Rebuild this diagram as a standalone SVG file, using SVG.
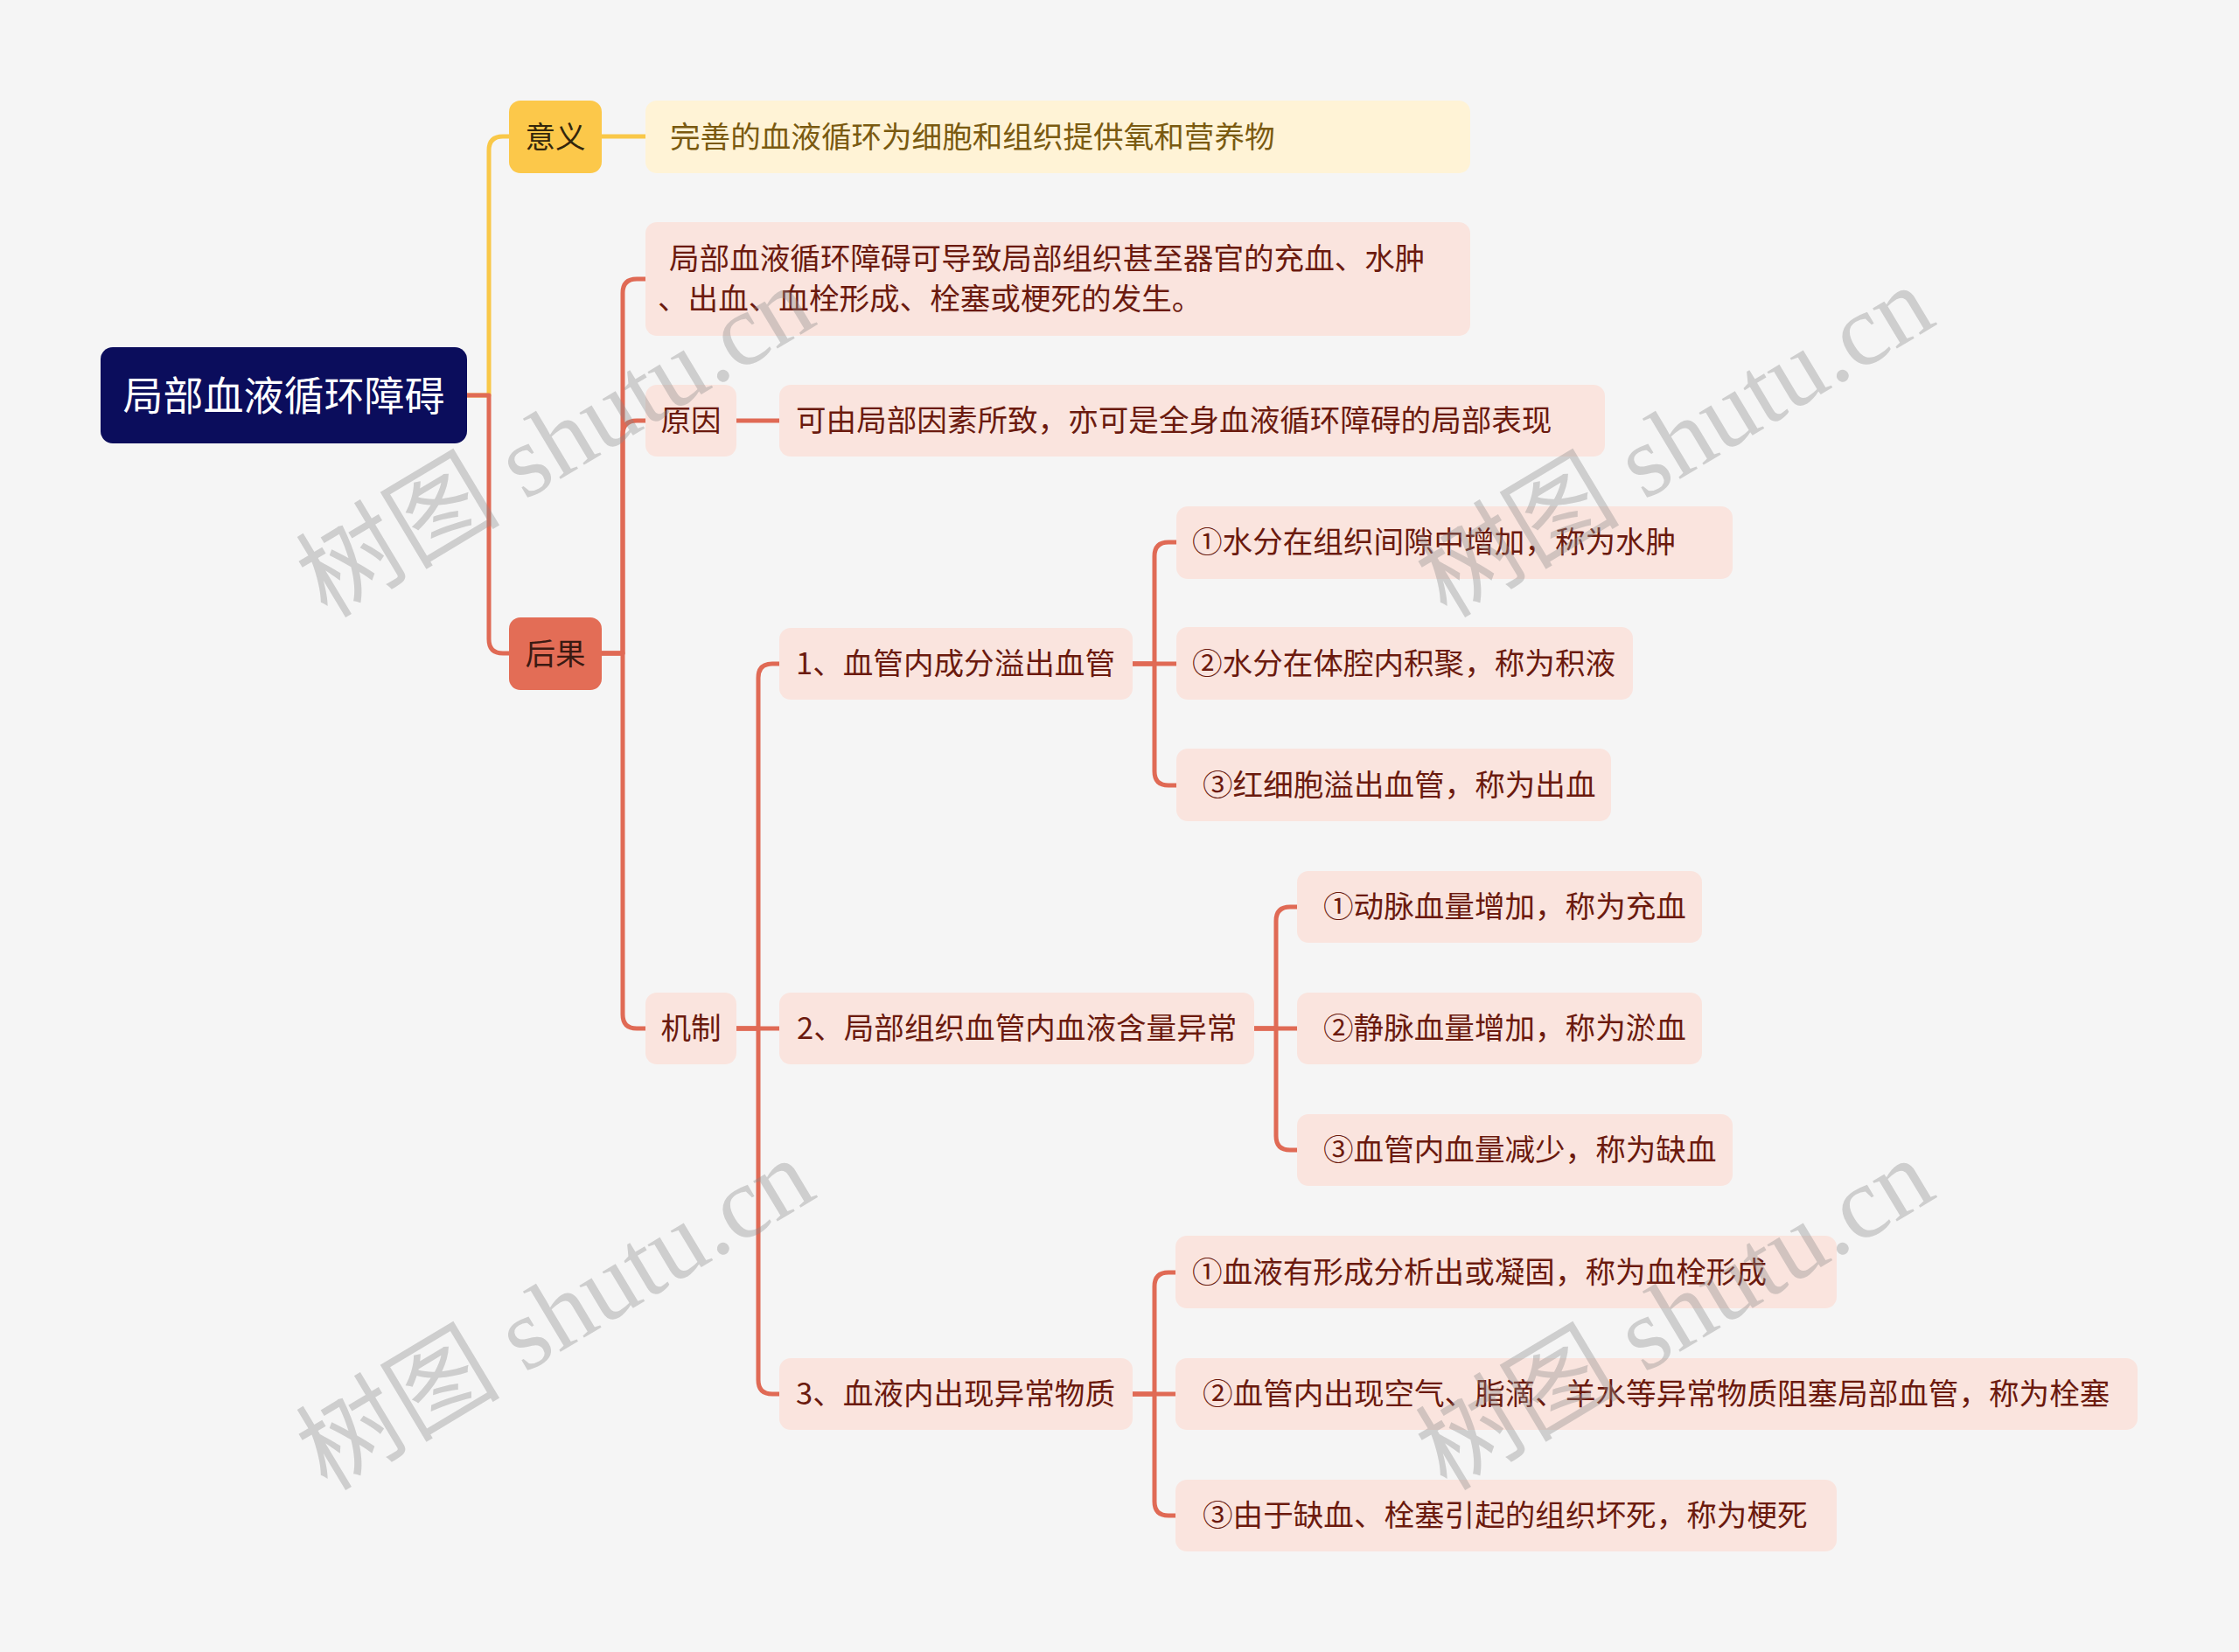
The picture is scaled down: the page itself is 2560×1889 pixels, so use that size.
<svg xmlns="http://www.w3.org/2000/svg" width="2560" height="1889" viewBox="0 0 2560 1889">
<style>
.bg{fill:#f5f5f5}
.ln{fill:none;stroke:#e06a55;stroke-width:5;stroke-linejoin:round}
.lny{fill:none;stroke:#f9c848;stroke-width:5;stroke-linejoin:round}
.pk{fill:#fae4de}
.t{font-family:"Noto Sans CJK SC","Noto Sans",sans-serif;font-size:34.6px;fill:#6b1a0e;dominant-baseline:central}
.tc{text-anchor:middle}
.wm{font-family:"Liberation Serif","Noto Sans CJK SC",serif;font-size:117px;fill:#8a8a8a;opacity:0.36}
</style>
<rect class="bg" x="0" y="0" width="2560" height="1889"/>

<g id="connectors">
  <path class="lny" d="M534,452 H559 V172 Q559,156 575,156 H582"/>
  <path class="lny" d="M688,156 H738"/>
  <path class="ln" d="M534,452 H559 V731 Q559,747 575,747 H582"/>
  <path class="ln" d="M688,747 H712 V335 Q712,319 728,319 H738"/>
  <path class="ln" d="M688,747 H712 V497 Q712,481 728,481 H738"/>
  <path class="ln" d="M688,747 H712 V1160 Q712,1176 728,1176 H738"/>
  <path class="ln" d="M842,481 H891"/>
  <path class="ln" d="M842,1176 H867 V775 Q867,759 883,759 H891"/>
  <path class="ln" d="M842,1176 H891"/>
  <path class="ln" d="M842,1176 H867 V1578 Q867,1594 883,1594 H891"/>
  <path class="ln" d="M1295,759 H1320 V636 Q1320,620 1336,620 H1345"/>
  <path class="ln" d="M1295,759 H1345"/>
  <path class="ln" d="M1295,759 H1320 V882 Q1320,898 1336,898 H1345"/>
  <path class="ln" d="M1434,1176 H1459 V1053 Q1459,1037 1475,1037 H1483"/>
  <path class="ln" d="M1434,1176 H1483"/>
  <path class="ln" d="M1434,1176 H1459 V1299 Q1459,1315 1475,1315 H1483"/>
  <path class="ln" d="M1295,1594 H1320 V1471 Q1320,1455 1336,1455 H1344"/>
  <path class="ln" d="M1295,1594 H1344"/>
  <path class="ln" d="M1295,1594 H1320 V1717 Q1320,1733 1336,1733 H1344"/>
</g>

<g id="root">
  <rect x="115" y="397" width="419" height="110" rx="14" fill="#0b0d5c"/>
  <text class="t tc" x="324.5" y="449" style="font-size:46px;fill:#ffffff">局部血液循环障碍</text>
</g>
<g id="n-yiyi">
  <rect x="582" y="115" width="106" height="83" rx="13" fill="#fcc84a"/>
  <text class="t tc" x="635" y="153.5" style="fill:#33260c">意义</text>
</g>
<g id="n-yiyi-c">
  <rect x="738" y="115" width="943" height="83" rx="13" fill="#fff3d6"/>
  <text class="t" x="766" y="153.5" style="fill:#7a5a10">完善的血液循环为细胞和组织提供氧和营养物</text>
</g>
<g id="n-houguo">
  <rect x="582" y="706" width="106" height="83" rx="13" fill="#e36d56"/>
  <text class="t tc" x="635" y="744.5" style="fill:#3b1a12">后果</text>
</g>
<g id="n-desc">
  <rect class="pk" x="738" y="254" width="943" height="130" rx="13"/>
  <text class="t" x="765" y="293">局部血液循环障碍可导致局部组织甚至器官的充血、水肿</text>
  <text class="t" x="752" y="339">、出血、血栓形成、栓塞或梗死的发生。</text>
</g>
<g id="n-yuanyin">
  <rect class="pk" x="738" y="440" width="104" height="82" rx="13"/>
  <text class="t tc" x="790" y="478">原因</text>
</g>
<g id="n-yuanyin-c">
  <rect class="pk" x="891" y="440" width="944" height="82" rx="13"/>
  <text class="t" x="910" y="478">可由局部因素所致，亦可是全身血液循环障碍的局部表现</text>
</g>
<g id="n-jizhi">
  <rect class="pk" x="738" y="1135" width="104" height="82" rx="13"/>
  <text class="t tc" x="790" y="1173">机制</text>
</g>
<g id="n-m1">
  <rect class="pk" x="891" y="718" width="404" height="82" rx="13"/>
  <text class="t" x="910" y="756">1、血管内成分溢出血管</text>
</g>
<g id="n-m1a">
  <rect class="pk" x="1345" y="579" width="636" height="83" rx="13"/>
  <text class="t" x="1363" y="617">①水分在组织间隙中增加，称为水肿</text>
</g>
<g id="n-m1b">
  <rect class="pk" x="1345" y="717" width="522" height="83" rx="13"/>
  <text class="t" x="1363" y="756">②水分在体腔内积聚，称为积液</text>
</g>
<g id="n-m1c">
  <rect class="pk" x="1345" y="856" width="497" height="83" rx="13"/>
  <text class="t" x="1375" y="895">③红细胞溢出血管，称为出血</text>
</g>
<g id="n-m2">
  <rect class="pk" x="891" y="1135" width="543" height="82" rx="13"/>
  <text class="t" x="911" y="1173">2、局部组织血管内血液含量异常</text>
</g>
<g id="n-m2a">
  <rect class="pk" x="1483" y="996" width="463" height="82" rx="13"/>
  <text class="t" x="1513" y="1034">①动脉血量增加，称为充血</text>
</g>
<g id="n-m2b">
  <rect class="pk" x="1483" y="1135" width="463" height="82" rx="13"/>
  <text class="t" x="1513" y="1173">②静脉血量增加，称为淤血</text>
</g>
<g id="n-m2c">
  <rect class="pk" x="1483" y="1274" width="498" height="82" rx="13"/>
  <text class="t" x="1513" y="1312">③血管内血量减少，称为缺血</text>
</g>
<g id="n-m3">
  <rect class="pk" x="891" y="1553" width="404" height="82" rx="13"/>
  <text class="t" x="910" y="1591">3、血液内出现异常物质</text>
</g>
<g id="n-m3a">
  <rect class="pk" x="1344" y="1413" width="756" height="83" rx="13"/>
  <text class="t" x="1363" y="1452">①血液有形成分析出或凝固，称为血栓形成</text>
</g>
<g id="n-m3b">
  <rect class="pk" x="1344" y="1553" width="1100" height="82" rx="13"/>
  <text class="t" x="1375" y="1591">②血管内出现空气、脂滴、羊水等异常物质阻塞局部血管，称为栓塞</text>
</g>
<g id="n-m3c">
  <rect class="pk" x="1344" y="1692" width="756" height="82" rx="13"/>
  <text class="t" x="1375" y="1730">③由于缺血、栓塞引起的组织坏死，称为梗死</text>
</g>

<g id="watermarks">
  <text class="wm" x="374" y="708" transform="rotate(-31 374 708)">树图 shutu.cn</text>
  <text class="wm" x="1654" y="708" transform="rotate(-31 1654 708)">树图 shutu.cn</text>
  <text class="wm" x="374" y="1706" transform="rotate(-31 374 1706)">树图 shutu.cn</text>
  <text class="wm" x="1654" y="1706" transform="rotate(-31 1654 1706)">树图 shutu.cn</text>
</g>
</svg>
